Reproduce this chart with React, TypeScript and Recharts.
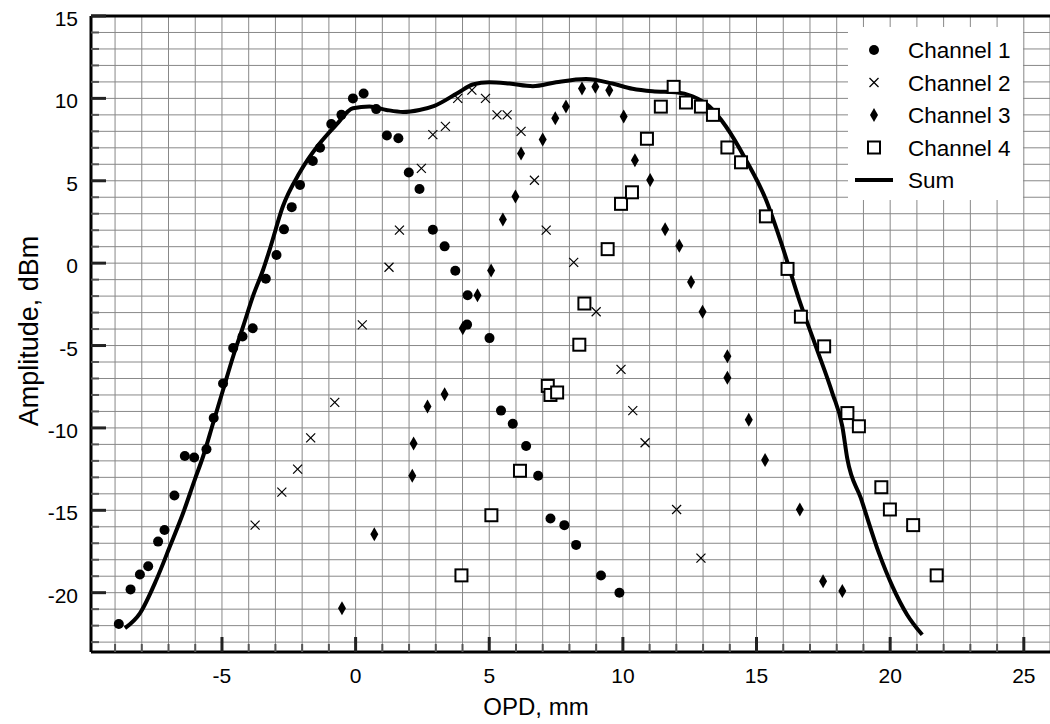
import { ComposedChart, Scatter, Line, XAxis, YAxis, CartesianGrid, ReferenceLine, Legend } from "recharts";

// values: [OPD mm, amplitude dBm]
const channel1 = [
  [-8.86, -21.9], [-8.42, -19.8], [-8.07, -18.9], [-7.76, -18.4], [-7.39, -16.9], [-7.15, -16.2],
  [-6.78, -14.1], [-6.39, -11.7], [-6.04, -11.8], [-5.58, -11.3], [-5.31, -9.4], [-4.96, -7.3],
  [-4.58, -5.15], [-4.23, -4.45], [-3.85, -3.95], [-3.36, -0.95], [-2.96, 0.5], [-2.68, 2.05],
  [-2.39, 3.4], [-2.08, 4.75], [-1.6, 6.2], [-1.33, 7.0], [-0.91, 8.45], [-0.53, 9.0],
  [-0.1, 10.0], [0.3, 10.3], [0.77, 9.35], [1.17, 7.75], [1.6, 7.58], [1.99, 5.5],
  [2.39, 4.5], [2.89, 2.03], [3.33, 1.02], [3.73, -0.46], [4.19, -1.95], [4.17, -3.73],
  [5.01, -4.55], [5.44, -8.95], [5.88, -9.75], [6.38, -11.1], [6.83, -12.9], [7.29, -15.5],
  [7.81, -15.9], [8.25, -17.1], [9.18, -18.96], [9.87, -20.0],
];

const channel2 = [
  [-3.76, -15.9], [-2.76, -13.9], [-2.17, -12.5], [-1.68, -10.6], [-0.78, -8.45], [0.25, -3.75],
  [1.25, -0.25], [1.64, 2.0], [2.46, 5.75], [2.89, 7.8], [3.36, 8.3], [3.82, 10.0],
  [4.35, 10.5], [4.86, 10.0], [5.29, 9.0], [5.67, 9.0], [6.19, 8.0], [6.69, 5.03],
  [7.13, 2.0], [8.16, 0.05], [9.0, -2.95], [9.93, -6.45], [10.37, -8.95], [10.83, -10.9],
  [12.01, -14.95], [12.92, -17.9],
];

const channel3 = [
  [-0.51, -20.95], [0.7, -16.45], [2.12, -12.9], [2.17, -10.95], [2.69, -8.7], [3.33, -7.95],
  [4.01, -3.95], [4.56, -1.95], [5.07, -0.45], [5.51, 2.65], [5.98, 4.05], [6.19, 6.65],
  [7.0, 7.5], [7.47, 8.8], [7.87, 9.5], [8.47, 10.6], [8.97, 10.7], [9.49, 10.5],
  [10.03, 8.9], [10.45, 6.25], [11.02, 5.05], [11.58, 2.05], [12.11, 1.05], [12.55, -1.15],
  [12.98, -2.95], [13.91, -5.65], [13.91, -6.95], [14.71, -9.5], [15.32, -11.95], [16.62, -14.95],
  [17.49, -19.3], [18.21, -19.9],
];

const channel4 = [
  [3.96, -18.95], [5.08, -15.3], [6.15, -12.6], [7.19, -7.45], [7.29, -8.0], [7.54, -7.85],
  [8.37, -4.95], [8.56, -2.45], [9.43, 0.85], [9.93, 3.6], [10.34, 4.3], [10.9, 7.55],
  [11.42, 9.5], [11.9, 10.7], [12.36, 9.75], [12.92, 9.5], [13.37, 9.0], [13.91, 7.02],
  [14.42, 6.12], [15.35, 2.84], [16.16, -0.35], [16.66, -3.25], [17.53, -5.05], [18.4, -9.1],
  [18.83, -9.9], [19.67, -13.6], [19.99, -14.95], [20.86, -15.9], [21.74, -18.95],
];

const sum = [
  [-8.63, -22.15], [-8.07, -21.25], [-7.45, -19.2], [-6.95, -17.2], [-6.45, -15.15], [-6.02, -13.15],
  [-5.71, -11.75], [-5.33, -9.7], [-4.96, -7.7], [-4.58, -5.65], [-4.21, -3.85], [-3.84, -2.0],
  [-3.46, -0.4], [-3.2, 0.9], [-2.72, 3.45], [-2.09, 5.5], [-1.4, 7.15], [-0.72, 8.4],
  [-0.1, 9.4], [0.52, 9.5], [1.15, 9.3], [1.77, 9.18], [2.39, 9.3], [2.95, 9.55],
  [3.82, 10.33], [4.38, 10.84], [5.0, 10.98], [5.75, 10.9], [6.63, 10.74], [7.5, 10.98],
  [8.62, 11.18], [9.61, 10.9], [10.36, 10.58], [11.11, 10.43], [11.98, 10.37], [12.6, 10.13],
  [13.23, 9.52], [13.85, 8.31], [14.6, 6.28], [15.35, 3.86], [15.97, 1.0], [16.59, -2.2],
  [17.22, -5.05], [17.84, -7.9], [18.21, -9.9], [18.4, -11.9], [18.9, -14.25], [19.58, -17.6],
  [20.08, -19.6], [20.64, -21.35], [21.2, -22.55],
];

const xTicks = Array.from({ length: 35 }, (_, i) => i - 9); // -9 .. 25
const yTicks = Array.from({ length: 39 }, (_, i) => i - 23); // -23 .. 15

const FONT = '"Liberation Sans", Arial, Helvetica, sans-serif';
const toPts = (arr: number[][]) => arr.map(([x, y]) => ({ x, y }));

const Dot = ({ cx, cy }: any) => <circle cx={cx} cy={cy} r={5} fill="#000" />;
const Cross = ({ cx, cy }: any) => (
  <g stroke="#000" strokeWidth={1.2}>
    <line x1={cx - 4.5} y1={cy - 4.5} x2={cx + 4.5} y2={cy + 4.5} />
    <line x1={cx - 4.5} y1={cy + 4.5} x2={cx + 4.5} y2={cy - 4.5} />
  </g>
);
const Diamond = ({ cx, cy }: any) => (
  <polygon points={`${cx},${cy - 7} ${cx + 4},${cy} ${cx},${cy + 7} ${cx - 4},${cy}`} fill="#000" />
);
const Square = ({ cx, cy }: any) => (
  <rect x={cx - 6} y={cy - 6} width={12} height={12} fill="#fff" stroke="#000" strokeWidth={2} />
);

const XTick = ({ x, y, payload }: any) => {
  const v = payload.value;
  const major = v % 5 === 0;
  return (
    <g>
      <line x1={x} x2={x} y1={y} y2={y - (major ? 15 : 8)} stroke={major ? "#222" : "#555"} strokeWidth={major ? 3 : 2} />
      {major && (
        <text x={x} y={y + 31} textAnchor="middle" fontSize={21} fontFamily={FONT} fill="#000">
          {v}
        </text>
      )}
    </g>
  );
};

const YTick = ({ x, y, payload }: any) => {
  const v = payload.value;
  const major = v % 5 === 0;
  return (
    <g>
      <line x1={x} x2={x + (major ? 15 : 8)} y1={y} y2={y} stroke={major ? "#222" : "#555"} strokeWidth={major ? 3 : 2} />
      {major && (
        <text x={x - 13} y={y + 10} textAnchor="end" fontSize={21} fontFamily={FONT} fill="#000">
          {v}
        </text>
      )}
    </g>
  );
};

const legendRows = [
  { name: "Channel 1", Shape: Dot },
  { name: "Channel 2", Shape: Cross },
  { name: "Channel 3", Shape: Diamond },
  { name: "Channel 4", Shape: Square },
  { name: "Sum", Shape: null },
];

const LegendBox = () => (
  <svg width={175} height={173} style={{ display: "block", background: "#fff" }}>
    {legendRows.map((r, i) => {
      const cy = 23 + i * 32.5;
      return (
        <g key={r.name}>
          {r.Shape ? <r.Shape cx={26} cy={cy} /> : <line x1={7} x2={45} y1={cy} y2={cy} stroke="#000" strokeWidth={4} />}
          <text x={60} y={cy + 8} fontSize={22.5} fontFamily={FONT} fill="#000">
            {r.name}
          </text>
        </g>
      );
    })}
  </svg>
);

export default function App() {
  return (
    <div style={{ position: "absolute", left: 0, top: 0, width: 1050, height: 724, background: "#fff" }}>
      <ComposedChart width={1050} height={724} margin={{ top: 16, right: 0, bottom: 32, left: 31 }}>
        <CartesianGrid stroke="#888" strokeWidth={1} />
        <XAxis
          type="number"
          dataKey="x"
          domain={[-9.9, 25.98]}
          ticks={xTicks}
          interval={0}
          allowDataOverflow
          height={40}
          tickSize={0}
          tickMargin={0}
          tickLine={false}
          axisLine={{ stroke: "#000", strokeWidth: 3 }}
          tick={<XTick />}
          label={{
            content: () => (
              <text x={536} y={715} textAnchor="middle" fontSize={24} fontFamily={FONT} fill="#000">
                OPD, mm
              </text>
            ),
          }}
        />
        <YAxis
          type="number"
          dataKey="y"
          domain={[-23.6, 15]}
          ticks={yTicks}
          interval={0}
          allowDataOverflow
          width={60}
          tickSize={0}
          tickMargin={0}
          tickLine={false}
          axisLine={{ stroke: "#000", strokeWidth: 3 }}
          tick={<YTick />}
          label={{
            content: () => (
              <text x={38} y={331} transform="rotate(-90 38 331)" textAnchor="middle" fontSize={27} fontFamily={FONT} fill="#000">
                Amplitude, dBm
              </text>
            ),
          }}
        />
        <ReferenceLine y={15} stroke="#000" strokeWidth={3} />
        <Scatter name="Channel 1" data={toPts(channel1)} shape={<Dot />} isAnimationActive={false} />
        <Scatter name="Channel 2" data={toPts(channel2)} shape={<Cross />} isAnimationActive={false} />
        <Scatter name="Channel 3" data={toPts(channel3)} shape={<Diamond />} isAnimationActive={false} />
        <Scatter name="Channel 4" data={toPts(channel4)} shape={<Square />} isAnimationActive={false} />
        <Line
          name="Sum"
          data={toPts(sum)}
          dataKey="y"
          type="monotone"
          stroke="#000"
          strokeWidth={4}
          dot={false}
          activeDot={false}
          isAnimationActive={false}
        />
        <Legend
          layout="vertical"
          align="center"
          verticalAlign="middle"
          content={<LegendBox />}
          wrapperStyle={{ left: 848, top: 27, width: 175, height: 173, margin: 0 }}
        />
      </ComposedChart>
    </div>
  );
}
